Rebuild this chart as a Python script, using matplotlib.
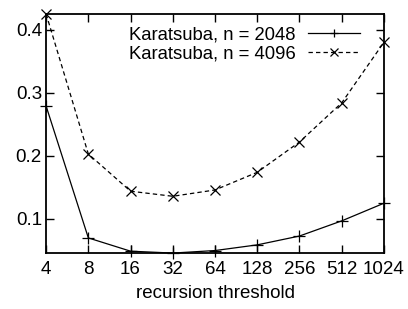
import matplotlib
matplotlib.use("Agg")
import matplotlib.pyplot as plt

plt.rcParams['font.family'] = ['Liberation Sans', 'DejaVu Sans']

thresholds = [4, 8, 16, 32, 64, 128, 256, 512, 1024]
tick_labels = ['4', '8', '16', '32', '64', '128', '256', '512', '1024']
y_2048 = [0.279, 0.070, 0.049, 0.046, 0.050, 0.059, 0.073, 0.097, 0.125]
y_4096 = [0.425, 0.203, 0.144, 0.136, 0.146, 0.174, 0.222, 0.284, 0.380]

fig = plt.figure(figsize=(4.08, 3.09), dpi=100)
ax = fig.add_axes([0.113, 0.181, 0.828, 0.774])

ax.plot(thresholds, y_2048, '-', color='black', lw=0.9, marker='+',
        ms=8, mew=0.9, label='Karatsuba, n = 2048', clip_on=False)
ax.plot(thresholds, y_4096, '--', color='black', lw=0.9, marker='x',
        ms=7, mew=0.9, dashes=(3.5, 2.5), label='Karatsuba, n = 4096', clip_on=False)

ax.set_xscale('log', base=2)
ax.set_xlim(4, 1024)
ax.set_ylim(0.046, 0.425)
ax.set_xticks(thresholds)
ax.set_xticklabels(tick_labels)
ax.minorticks_off()
ax.set_yticks([0.1, 0.2, 0.3, 0.4])
ax.set_yticklabels(['0.1', '0.2', '0.3', '0.4'])
ax.tick_params(direction='in', length=6, width=1, top=True, right=True,
               labelsize=13.5)
ax.tick_params(axis='x', pad=6)
ax.tick_params(axis='y', pad=3)
for s in ax.spines.values():
    s.set_linewidth(1.3)
ax.set_xlabel('recursion threshold', fontsize=13.5, labelpad=5)

leg = ax.legend(loc='upper right', frameon=False, markerfirst=False, fontsize=13.3,
                handlelength=2.8, handletextpad=0.7, labelspacing=0.12,
                borderpad=0.0, borderaxespad=0.0, markerscale=0.75,
                bbox_to_anchor=(0.929, 0.948))

fig.savefig('out.png', dpi=100)
